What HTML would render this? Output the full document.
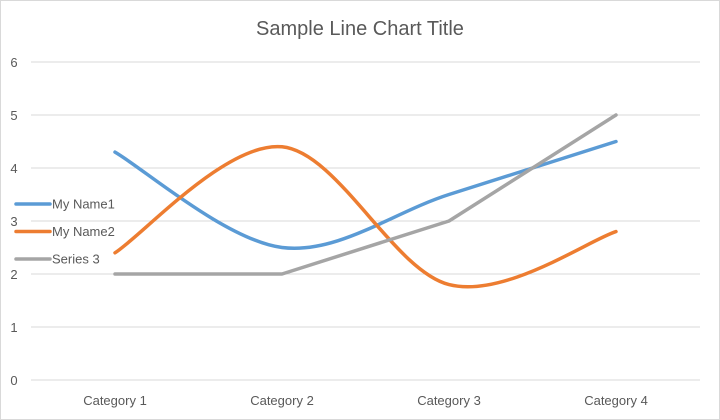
<!DOCTYPE html>
<html><head><meta charset="utf-8"><style>
body{margin:0;background:#fff;}
svg{display:block;font-family:"Liberation Sans",sans-serif;}
</style></head><body>
<svg id="c" width="720" height="420" viewBox="0 0 720 420">
<rect x="0.5" y="0.5" width="719" height="419" fill="#fff" stroke="#d9d9d9"/>
<text x="360" y="35" text-anchor="middle" font-size="20" fill="#595959">Sample Line Chart Title</text>
<g id="grid"></g><g id="series"></g><g id="legend"></g>
</svg>
<script>
const categories=["Category 1","Category 2","Category 3","Category 4"];
const seriesNames=["My Name1","My Name2","Series 3"];
const s1=[4.3,2.5,3.5,4.5];
const s2=[2.4,4.4,1.8,2.8];
const s3=[2,2,3,5];
const yTicks=[0,1,2,3,4,5,6];
const colors=["#5b9bd5","#ed7d31","#a5a5a5"];
const smooth=[true,true,false];
const NS="http://www.w3.org/2000/svg";
const svg=document.getElementById('c');
function y(v){return 380-v*53;}
function x(i){return 115+i*167;}
function mk(t,a,p){const e=document.createElementNS(NS,t);for(const k in a)e.setAttribute(k,a[k]);p.appendChild(e);return e;}
const g=document.getElementById('grid');
yTicks.forEach(v=>{
 const l=mk('line',{x1:31,x2:700,y1:y(v),y2:y(v),stroke:'#d9d9d9','stroke-width':1},g);
 
 
 const t=mk('text',{x:14,y:y(v)+5,'text-anchor':'middle','font-size':13,fill:'#595959'},g);
 t.textContent=v;
 
 
});
categories.forEach((c,i)=>{
 const t=mk('text',{x:x(i),y:405,'text-anchor':'middle','font-size':13,fill:'#595959'},g);
 t.textContent=c;
 
 
});
function pathFor(vals,sm){
 const P=vals.map((v,i)=>[x(i),y(v)]);
 let d='M'+P[0][0]+','+P[0][1];
 for(let i=0;i<P.length-1;i++){
  if(!sm){d+=' L'+P[i+1][0]+','+P[i+1][1];continue;}
  const p0=P[Math.max(i-1,0)],p1=P[i],p2=P[i+1],p3=P[Math.min(i+2,P.length-1)];
  const k=1/6;
  const c1=[p1[0]+(p2[0]-p0[0])*k,p1[1]+(p2[1]-p0[1])*k];
  const c2=[p2[0]-(p3[0]-p1[0])*k,p2[1]-(p3[1]-p1[1])*k];
  d+=' C'+c1+' '+c2+' '+p2;
 }
 return d;
}
const sg=document.getElementById('series');
[s1,s2,s3].forEach((vals,j)=>{
 const p=mk('path',{d:pathFor(vals,smooth[j]),fill:'none',stroke:colors[j],'stroke-width':3.5,'stroke-linecap':'round','stroke-linejoin':'round'},sg);
 
 
});
const lg=document.getElementById('legend');
seriesNames.forEach((n,j)=>{
 const yy=204+j*27.5;
 const l=mk('line',{x1:16,x2:50,y1:yy,y2:yy,stroke:colors[j],'stroke-width':3.5,'stroke-linecap':'round'},lg);
 
 
 const t=mk('text',{x:52,y:yy+4.5,'font-size':13,fill:'#595959'},lg);
 t.textContent=n;
 
 
});
</script>
</body></html>
